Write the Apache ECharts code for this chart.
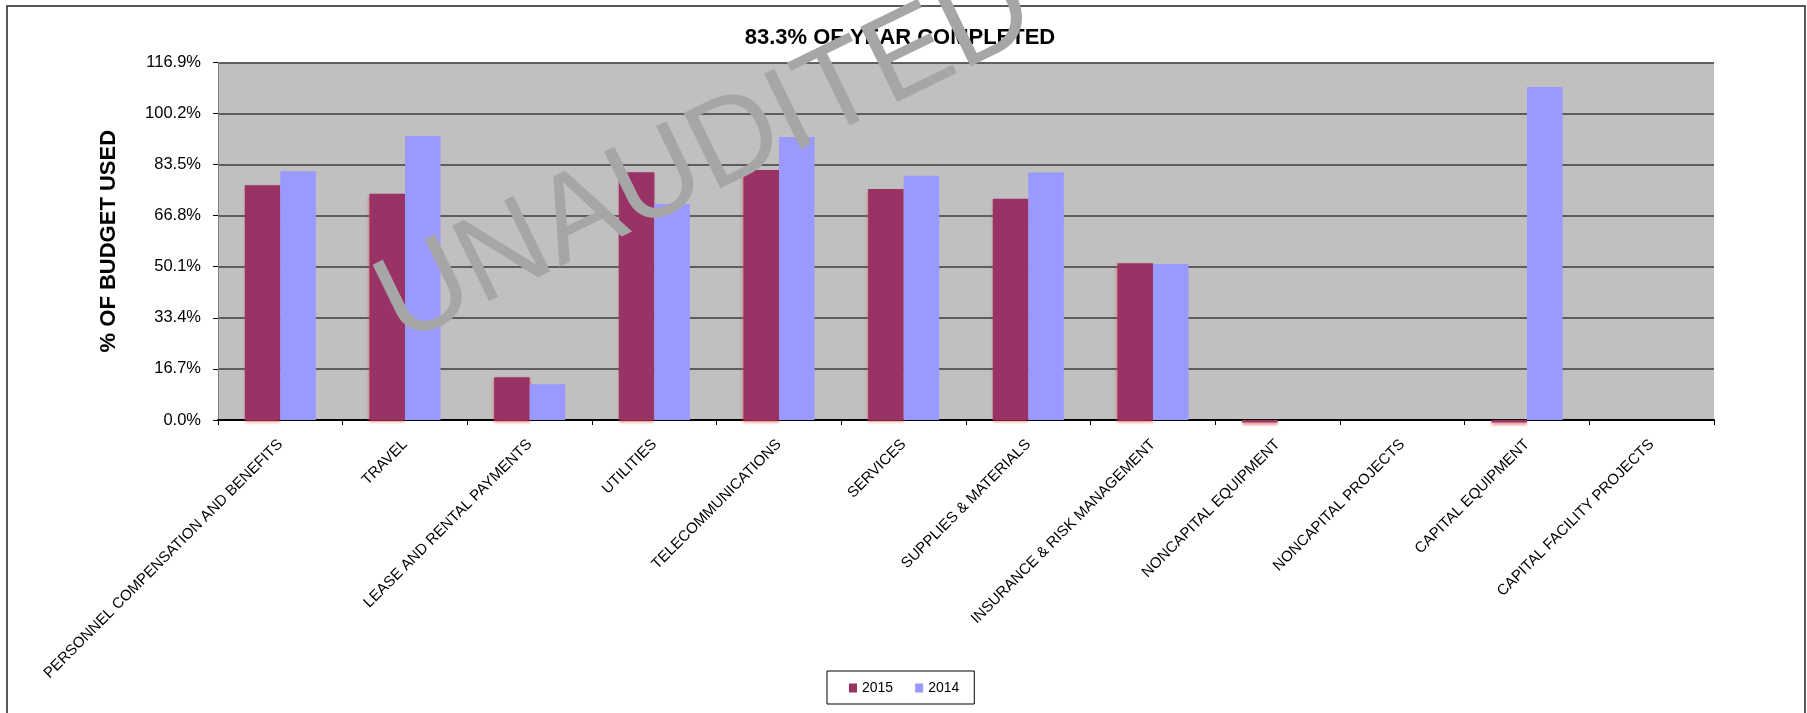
<!DOCTYPE html>
<html>
<head>
<meta charset="utf-8">
<script src="https://cdn.jsdelivr.net/npm/echarts@6/dist/echarts.min.js"></script>
<style>
html,body{margin:0;padding:0;background:#fff;}
#chart{width:1807px;height:713px;}
</style>
</head>
<body>
<div id="chart"></div>
<script>
const categories = [
  'PERSONNEL COMPENSATION AND BENEFITS', 'TRAVEL', 'LEASE AND RENTAL PAYMENTS', 'UTILITIES',
  'TELECOMMUNICATIONS', 'SERVICES', 'SUPPLIES & MATERIALS', 'INSURANCE & RISK MANAGEMENT',
  'NONCAPITAL EQUIPMENT', 'NONCAPITAL PROJECTS', 'CAPITAL EQUIPMENT', 'CAPITAL FACILITY PROJECTS'
];
const seriesNames = ['2015', '2014'];
const values2015 = [76.7, 73.9, 14.0, 81.0, 81.7, 75.5, 72.3, 51.2, -0.8, 0, -0.8, 0];
const values2014 = [81.3, 92.8, 11.7, 70.6, 92.5, 79.8, 80.9, 51.0, 0, 0, 108.8, 0];
const yTickLabels = ['0.0%', '16.7%', '33.4%', '50.1%', '66.8%', '83.5%', '100.2%', '116.9%'];
const yMin = 0, yMax = 116.9, yStep = 16.7;
const titleText = '83.3% OF YEAR COMPLETED';
const yAxisTitle = '% OF BUDGET USED';
const watermarkText = 'UNAUDITED';

const FONT = "'Liberation Sans', Arial, sans-serif";
const chart = echarts.init(document.getElementById('chart'), null, {renderer: 'canvas'});
chart.setOption({
  animation: false,
  backgroundColor: '#ffffff',
  title: {
    text: titleText,
    left: 895,
    textAlign: 'center',
    top: 22,
    textStyle: {fontFamily: FONT, fontSize: 22, fontWeight: 'bold', color: '#000'}
  },
  legend: {
    data: seriesNames,
    left: 827,
    top: 671,
    orient: 'horizontal',
    itemWidth: 8,
    itemHeight: 9,
    itemGap: 22,
    padding: [10, 15, 9, 22],
    borderColor: '#000',
    borderWidth: 1,
    icon: 'rect',
    textStyle: {fontFamily: FONT, fontSize: 14, color: '#000'}
  },
  grid: {
    left: 218, top: 62.3, width: 1496, height: 357.7,
    show: true, backgroundColor: '#C0C0C0', borderWidth: 0,
    containLabel: false
  },
  xAxis: {
    type: 'category',
    data: categories,
    boundaryGap: true,
    axisLine: {show: true, lineStyle: {color: '#000', width: 2}},
    axisTick: {show: true, length: 5, lineStyle: {color: '#000', width: 1}},
    axisLabel: {
      interval: 0, rotate: 45, margin: 22,
      fontFamily: FONT, fontSize: 15, color: '#000'
    },
    splitLine: {show: false}
  },
  yAxis: {
    type: 'value',
    min: yMin, max: yMax, interval: yStep,
    name: yAxisTitle,
    nameLocation: 'middle',
    nameRotate: 90,
    nameGap: 98,
    nameTextStyle: {fontFamily: FONT, fontSize: 22, fontWeight: 'bold', color: '#000'},
    axisLine: {show: true, lineStyle: {color: '#808080', width: 1}},
    axisTick: {show: true, length: 5, lineStyle: {color: '#000', width: 1}},
    axisLabel: {
      margin: 17, fontFamily: FONT, fontSize: 16.5, color: '#000',
      formatter: function (v) { return yTickLabels[Math.round((v - yMin) / yStep)]; }
    },
    splitLine: {show: true, lineStyle: {color: '#3c3c3c', width: 1.5}}
  },
  series: [
    {
      name: seriesNames[0],
      type: 'bar',
      data: values2015,
      barGap: '0%',
      barCategoryGap: '43%',
      clip: false,
      itemStyle: {
        color: '#993366',
        shadowColor: 'rgba(220,70,70,0.75)',
        shadowBlur: 3,
        shadowOffsetY: 2
      }
    },
    {
      name: seriesNames[1],
      type: 'bar',
      data: values2014,
      barGap: '0%',
      barCategoryGap: '43%',
      clip: false,
      itemStyle: {color: '#9999FF'}
    }
  ],
  graphic: [
    {
      type: 'rect',
      z: 100,
      silent: true,
      shape: {x: 7, y: 6, width: 1798, height: 730},
      style: {fill: 'none', stroke: '#222', lineWidth: 1.5}
    },
    {
      type: 'text',
      z: 200,
      silent: true,
      x: 706,
      y: 158,
      rotation: 26 * Math.PI / 180,
      style: {
        text: watermarkText,
        fontFamily: FONT,
        fontSize: 122,
        fill: '#A6A6A6',
        textAlign: 'center',
        textVerticalAlign: 'middle'
      }
    }
  ]
});
</script>
</body>
</html>
